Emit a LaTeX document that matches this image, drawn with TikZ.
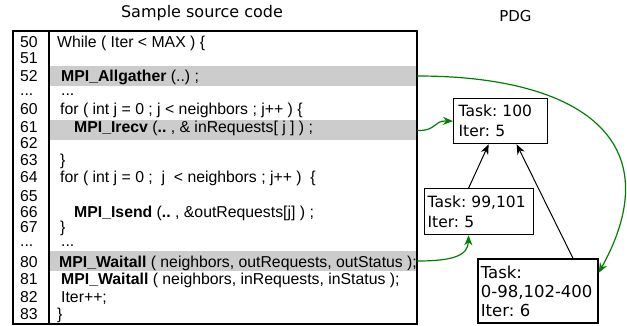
\documentclass[tikz,border=0pt]{standalone}
\usepackage{fontspec}
\setmainfont{Liberation Sans}
\newfontfamily\dejavu{DejaVu Sans}
\usetikzlibrary{arrows.meta}
\definecolor{hlgray}{RGB}{204,204,204}
\definecolor{flow}{RGB}{0,128,0}

\begin{document}
\frenchspacing
\begin{tikzpicture}[x=1pt,y=-1pt,
  codetext/.style={anchor=base west, inner sep=0pt, font=\fontsize{15.8}{17}\selectfont},
  hlbar/.style={fill=hlgray, draw=none, minimum width=368pt, minimum height=20pt, inner sep=0pt, anchor=west},
  pdgnode/.style={draw, line width=1.3pt, anchor=north west, align=left, inner ysep=0pt,
    font=\dejavu\fontsize{15.5}{20}\selectfont},
  dep/.style={-{Stealth[length=10pt,width=8pt]}, line width=1pt},
  flowarrow/.style={-{Stealth[length=10pt,width=8pt]}, draw=flow, line width=1.2pt}
]
\useasboundingbox (0,0) rectangle (627,326);

% headings
\node[font=\dejavu\fontsize{16}{16}\selectfont] (title) at (202,13) {Sample source code};
\node[font=\dejavu\fontsize{15}{15}\selectfont] (pdgtitle) at (515.5,16) {PDG};

% highlighted source lines
\node[hlbar] (h52) at (49,76) {};
\node[hlbar] (h61) at (49,130.5) {};
\node[hlbar] (h80) at (49,261) {};

% line numbers
\foreach \n/\y in {50/48, 51/64, 52/82, 60/115, 61/133, 62/149, 63/166, 64/183, 65/201,
                   66/218, 67/233, 80/267, 81/284, 82/302, 83/319}
  \node[codetext] at (20,\y) {\n};
\node[codetext] (gap1) at (20,96) {...};
\node[codetext] (gap2) at (20,247) {...};

% source text
\node[codetext] (c50) at (57,48)  {While ( Iter < MAX ) \{};
\node[codetext] (c52) at (61,82)  {\textbf{MPI\_Allgather} (..) ;};
\node[codetext] (c53) at (61,96)  {...};
\node[codetext] (c60) at (60,115) {for ( int j = 0 ; j < neighbors ; j++ ) \{};
\node[codetext] (c61) at (74,133) {\textbf{MPI\_Irecv} (\textbf{..} , \& inRequests[ j ] ) ;};
\node[codetext] (c63) at (60,166) {\}};
\node[codetext] (c64) at (60,183) {for ( int j = 0 ; \ j \ < neighbors ; j++ ) \ \{};
\node[codetext] (c66) at (74,218) {\textbf{MPI\_Isend} (\textbf{..} , \&outRequests[j] ) ;};
\node[codetext] (c67) at (60,233) {\}};
\node[codetext] (c68) at (61,247) {...};
\node[codetext] (c80) at (59,267) {\textbf{MPI\_Waitall} ( neighbors, outRequests, outStatus );};
\node[codetext] (c81) at (61,284) {\textbf{MPI\_Waitall} ( neighbors, inRequests, inStatus );};
\node[codetext] (c82) at (61,302) {Iter++;};
\node[codetext] (c83) at (57,319) {\}};

% listing frame
\draw[line width=1.3pt] (13,31) rectangle (417,324);
\draw[line width=1.3pt] (49,31) -- (49,324);

% PDG nodes
\node[pdgnode, inner xsep=5pt, text width=84pt, minimum height=45pt] (n1) at (453,98)
  {Task: 100\\Iter: 5};
\node[pdgnode, inner xsep=3pt, text width=103pt, minimum height=46pt] (n2) at (424,188)
  {Task: 99,101\\Iter: 5};
\node[pdgnode, inner xsep=3pt, text width=114pt, minimum height=64pt, line width=1.7pt,
  font=\dejavu\fontsize{16.5}{19}\selectfont] (n3) at (477,258)
  {Task:\\0-98,102-400\\Iter: 6};

% dependencies
\draw[dep] ([xshift=-10.5pt]n2.north) -- ([xshift=-12pt]n1.south);
\draw[dep] ([xshift=35pt]n3.north) -- ([xshift=16pt]n1.south);

% mapping from source lines to PDG nodes
\draw[flowarrow] (h52.east) .. controls (580,76) and (672,140) .. ([yshift=18pt]n3.east);
\draw[flowarrow] (h61.east) .. controls (437,131) and (433,120.5) .. (n1.west);
\draw[flowarrow] (h80.east) .. controls (452,261) and (468,256) .. ([xshift=-10.5pt]n2.south);
\end{tikzpicture}
\end{document}
